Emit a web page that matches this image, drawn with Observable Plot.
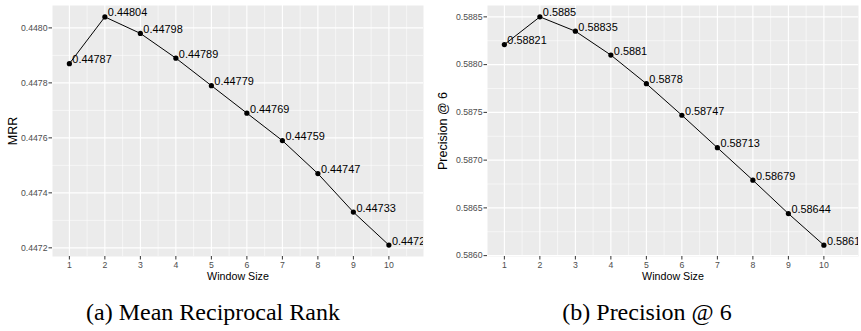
<!DOCTYPE html>
<html>
<head>
<meta charset="utf-8">
<script src="https://cdn.jsdelivr.net/npm/d3@7"></script>
<script src="https://cdn.jsdelivr.net/npm/@observablehq/plot@0.6"></script>
<style>
  html, body { margin: 0; padding: 0; background: #fff; }
  #wrap { position: relative; width: 861px; height: 331px; overflow: hidden; }
  .panel { position: absolute; top: 0; }
  .cap { position: absolute; top: 300px; font-family: "Liberation Serif", "Times New Roman", serif; font-size: 24px; line-height: 24px; color: #000; text-align: center; white-space: nowrap; }
</style>
</head>
<body>
<div id="wrap"></div>
<script>
const windowSizes = [1, 2, 3, 4, 5, 6, 7, 8, 9, 10];
const mrrValues = [0.44787, 0.44804, 0.44798, 0.44789, 0.44779, 0.44769, 0.44759, 0.44747, 0.44733, 0.44721];
const precValues = [0.58821, 0.5885, 0.58835, 0.5881, 0.5878, 0.58747, 0.58713, 0.58679, 0.58644, 0.58611];
const mrrTicks = [0.4472, 0.4474, 0.4476, 0.4478, 0.4480];
const mrrMinor = [0.4473, 0.4475, 0.4477, 0.4479];
const precTicks = [0.5860, 0.5865, 0.5870, 0.5875, 0.5880, 0.5885];
const precMinor = [0.58625, 0.58675, 0.58725, 0.58775, 0.58825];
const xMinor = [1.5, 2.5, 3.5, 4.5, 5.5, 6.5, 7.5, 8.5, 9.5, 10.5];
const captions = ["(a) Mean Reciprocal Rank", "(b) Precision @ 6"];
const yTitles = ["MRR", "Precision @ 6"];

function panel({values, yTicks, yMinor, yDomain, yTitle, width, marginLeft, marginRight}) {
  const data = windowSizes.map((x, i) => ({x, v: values[i]}));
  return Plot.plot({
    width, height: 290,
    marginLeft, marginRight, marginTop: 5, marginBottom: 34,
    style: {fontFamily: "'Liberation Sans', Arial, Helvetica, sans-serif", background: "white"},
    x: {domain: [0.525, 10.975]},
    y: {domain: yDomain},
    marks: [
      Plot.frame({fill: "#EBEBEB", stroke: "none"}),
      Plot.ruleX(xMinor, {stroke: "white", strokeWidth: 0.55}),
      Plot.ruleY(yMinor, {stroke: "white", strokeWidth: 0.55}),
      Plot.ruleX(windowSizes, {stroke: "white", strokeWidth: 1.1}),
      Plot.ruleY(yTicks, {stroke: "white", strokeWidth: 1.1}),
      Plot.axisX({ticks: windowSizes, tickSize: 3.5, tickPadding: 1.5, stroke: "#333333", fill: "#4D4D4D", fontSize: 8.7, label: null, tickFormat: d => String(d)}),
      Plot.axisY({ticks: yTicks, tickSize: 3.5, tickPadding: 1.5, stroke: "#333333", fill: "#4D4D4D", fontSize: 8.7, label: null, tickFormat: d3.format(".4f")}),
      Plot.line(data, {x: "x", y: "v", stroke: "black", strokeWidth: 1}),
      Plot.dot(data, {x: "x", y: "v", r: 2.6, fill: "black", stroke: "none"}),
      Plot.text(data, {x: "x", y: "v", text: d => String(d.v), textAnchor: "start", lineAnchor: "middle", dx: 3, dy: -4, fontSize: 10.9, fill: "black", clip: true}),
      Plot.text(["Window Size"], {frameAnchor: "bottom", dy: 20, lineAnchor: "middle", fontSize: 10.7, fill: "black"}),
      Plot.text([yTitle], {frameAnchor: "left", dx: -(marginLeft - 12), rotate: -90, lineAnchor: "middle", textAnchor: "middle", fontSize: 12.5, fill: "black"})
    ]
  });
}

const wrap = document.getElementById("wrap");
const a = panel({values: mrrValues, yTicks: mrrTicks, yMinor: mrrMinor, yDomain: [0.4471685, 0.4480815], yTitle: yTitles[0], width: 430, marginLeft: 52, marginRight: 7});
a.classList.add("panel"); a.style.left = "0px";
wrap.appendChild(a);
const b = panel({values: precValues, yTicks: precTicks, yMinor: precMinor, yDomain: [0.585991, 0.588619], yTitle: yTitles[1], width: 431, marginLeft: 57, marginRight: 3});
b.classList.add("panel"); b.style.left = "430px";
wrap.appendChild(b);

const capCenters = [213, 647];
captions.forEach((c, i) => {
  const d = document.createElement("div");
  d.className = "cap";
  d.textContent = c;
  d.style.left = (capCenters[i] - 200) + "px";
  d.style.width = "400px";
  wrap.appendChild(d);
});
</script>
</body>
</html>
